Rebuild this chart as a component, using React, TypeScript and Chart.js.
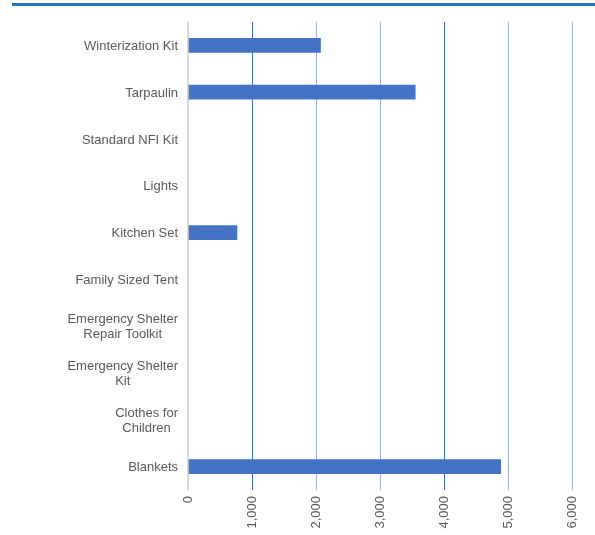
import React, { useEffect, useRef } from "react";
import { Chart, registerables } from "chart.js";

Chart.register(...registerables);

const categories: string[][] = [
  ["Winterization Kit"],
  ["Tarpaulin"],
  ["Standard NFI Kit"],
  ["Lights"],
  ["Kitchen Set"],
  ["Family Sized Tent"],
  ["Emergency Shelter", "Repair Toolkit"],
  ["Emergency Shelter", "Kit"],
  ["Clothes for", "Children"],
  ["Blankets"],
];
const values = [2070, 3550, 0, 0, 765, 0, 0, 0, 0, 4885];
const xMax = 6000;
const xStep = 1000;

const FONT = '"Liberation Sans", Arial, sans-serif';
const TEXT = "#595959";

const labelPlugin = {
  id: "catLabels",
  afterDraw(chart: any) {
    const ctx = chart.ctx;
    const y = chart.scales.y;
    ctx.save();
    ctx.font = `13px ${FONT}`;
    ctx.fillStyle = TEXT;
    ctx.textBaseline = "middle";
    ctx.textAlign = "center";
    const right = chart.chartArea.left - 10;
    categories.forEach((lines, i) => {
      const yc = y.getPixelForValue(i) + 1;
      const lh = 15;
      const widest = Math.max(...lines.map((l) => ctx.measureText(l).width));
      const cx = right - widest / 2;
      lines.forEach((l, j) =>
        ctx.fillText(l, cx, yc + (j - (lines.length - 1) / 2) * lh)
      );
    });
    ctx.restore();
  },
};

export default function App() {
  const ref = useRef<HTMLCanvasElement>(null);
  useEffect(() => {
    if (!ref.current) return;
    const chart = new Chart(ref.current, {
      type: "bar",
      data: {
        labels: categories.map((c) => c.join(" ")),
        datasets: [
          {
            data: values.map((v) => (v === 0 ? null : v)),
            backgroundColor: "#4472C4",
            borderWidth: 0,
            barThickness: 14,
          },
        ],
      },
      options: {
        indexAxis: "y",
        animation: false,
        responsive: false,
        layout: { padding: { top: 22, right: 23, left: 0, bottom: 0 } },
        plugins: { legend: { display: false }, tooltip: { enabled: false } },
        scales: {
          x: {
            min: 0,
            max: xMax,
            ticks: {
              stepSize: xStep,
              minRotation: 90,
              maxRotation: 90,
              padding: 6,
              color: TEXT,
              font: { family: FONT, size: 13 },
              callback: (v: any) => Number(v).toLocaleString("en-US"),
            },
            grid: {
              drawTicks: false,
              lineWidth: (c: any) => (c.tick && c.tick.value === 0 ? 2 : 1),
              color: (c: any) => {
                const v = c.tick ? c.tick.value : 0;
                if (v === 0) return "#d9d9d9";
                if (v === 1000 || v === 4000) return "#4472C4";
                return "#9fb4e0";
              },
            },
            border: { display: false },
            afterFit: (s: any) => {
              s.height = 45;
            },
          },
          y: {
            ticks: { display: false },
            grid: { display: false },
            border: { display: false },
            afterFit: (s: any) => {
              s.width = 188;
            },
          },
        },
      },
      plugins: [labelPlugin],
    });
    return () => chart.destroy();
  }, []);
  return (
    <div style={{ position: "absolute", left: 0, top: 0, width: 595, height: 535, background: "#fff" }}>
      <div style={{ position: "absolute", left: 12, top: 3, width: 583, height: 3, background: "#1f77c4" }} />
      <canvas ref={ref} width={595} height={535} style={{ position: "absolute", left: 0, top: 0 }} />
    </div>
  );
}
